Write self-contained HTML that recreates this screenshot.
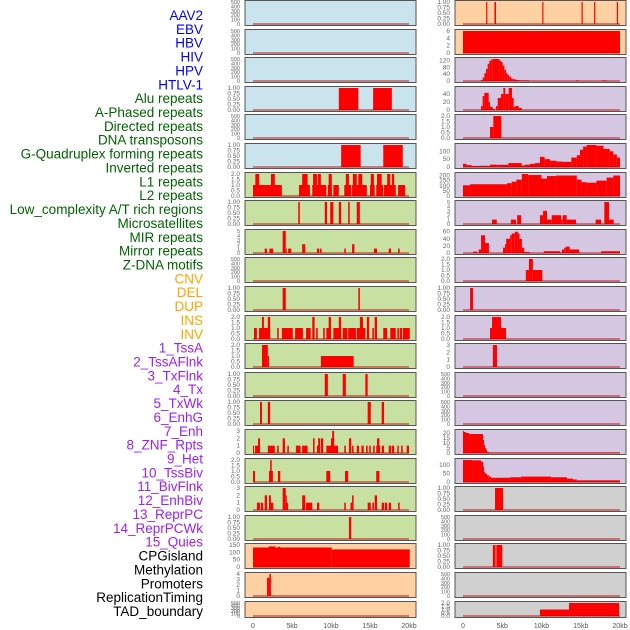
<!DOCTYPE html>
<html><head><meta charset="utf-8"><style>
body{margin:0;background:#fff;width:630px;height:630px;overflow:hidden}
svg{display:block;font-family:"Liberation Sans",sans-serif}
</style></head><body>
<svg id="chart" width="630" height="630"></svg>
<script>
const trackLabels=["AAV2","EBV","HBV","HIV","HPV","HTLV-1","Alu repeats","A-Phased repeats","Directed repeats","DNA transposons","G-Quadruplex forming repeats","Inverted repeats","L1 repeats","L2 repeats","Low_complexity A/T rich regions","Microsatellites","MIR repeats","Mirror repeats","Z-DNA motifs","CNV","DEL","DUP","INS","INV","1_TssA","2_TssAFlnk","3_TxFlnk","4_Tx","5_TxWk","6_EnhG","7_Enh","8_ZNF_Rpts","9_Het","10_TssBiv","11_BivFlnk","12_EnhBiv","13_ReprPC","14_ReprPCWk","15_Quies","CPGisland","Methylation","Promoters","ReplicationTiming","TAD_boundary"];
const xTicks=[0,5000,10000,15000,20000];
const xTickLabels=["0","5kb","10kb","15kb","20kb"];
const T500=["0","100","200","300","400","500"],T1=["0.00","0.25","0.50","0.75","1.00"],T2=["0.0","0.5","1.0","1.5","2.0"];
const leftBg=["b","b","b","b","b","b","g","g","g","g","g","g","g","g","g","g","g","g","g","p","p","p"];
const rightBg=["p","p","l","l","l","l","l","l","l","l","l","l","l","l","l","l","l","y","y","y","y","y"];
const leftTicks=[T500,T500,T500,T1,T500,T1,T2,T1,["0","1","2","3","4","5"],T500,T1,T2,T2,T1,T1,["0","1","2","3"],T2,["0","1","2","3"],T1,["0","50","100","150"],["0","1","2","3","4"],T500];
const leftMax=[500,500,500,1,500,1,2,1,5,500,1,2,2,1,1,3,2,3,1,150,4,500];
const rightTicks=[T1,["0","2","4","6"],["0","40","80","120"],["0","20","40"],T2,["0","50","100"],["0","50","100","150","200"],["0","1","2","3","4","5"],["0","20","40","60"],T2,T1,T2,["0","1","2","3"],T500,T500,["0","5","10","15","20"],["0","50","100"],T1,T500,T1,T500,T2];
const rightMax=[1,6,128,55,2,140,215,5,62,2,1,2,3,500,500,22,130,1,500,1,500,2];
// segments in kb: [start, end, value]
const leftSegments=[
[],[],[],
[[11,13.5,1],[15.4,17.8,1]],
[],
[[11.3,13.8,1],[16.7,19.2,1]],
[[-0.1,3.7,1],[0.3,0.8,2],[2.3,2.8,2],[5.9,7.3,1],[6.3,7.0,2],[7.6,9.4,1],[7.7,8.2,2],[8.3,8.7,2],[9.6,10.1,1],[9.7,10.1,2],[10.3,11,1],[11.7,12.6,1],[11.9,12.3,2],[12.7,14.6,1],[12.8,13.3,2],[13.5,14.0,2],[15,15.6,1],[15.1,15.5,2],[15.8,16.7,1],[15.9,16.5,2],[16.8,18.3,1],[17.2,17.6,2],[17.8,18.1,2],[18.6,19.5,1]],
[[5.8,6.0,1],[9.2,9.5,1],[9.9,10.3,1],[11,11.3,1],[12.2,12.4,1],[13.3,13.7,1]],
[[1.5,1.8,1],[2.1,2.6,1],[3.8,4.2,5],[4.2,4.3,1],[4.5,4.9,1],[6.3,6.7,2],[8.2,8.5,1],[8.6,8.8,1],[11.7,11.9,1],[12.7,13.0,2],[15.5,15.9,1],[17.4,17.7,1],[18.6,18.8,1]],
[],
[[3.8,4.2,1],[13.5,13.7,1]],
[[0.13,0.5,1],[0.77,2.05,1],[1.15,1.4,2],[1.9,2.2,2],[3.1,3.3,1],[3.7,5.1,1],[5.4,6.4,1],[6.8,7.4,1],[7.6,7.9,2],[8.1,8.3,1],[9.0,9.2,1],[9.4,10.0,1],[9.7,10.0,2],[10.3,11.3,1],[11.0,11.3,2],[11.5,12.1,1],[12.2,13.2,1],[13.3,14.4,1],[13.7,14.1,2],[14.6,14.9,2],[15.3,15.5,1],[15.6,15.9,2],[16.7,17.2,1],[17.6,18.3,1],[18.5,18.7,1],[18.8,19.1,1],[19.2,20.1,1]],
[[1.15,1.9,2],[1.9,2.05,1],[8.7,12.9,1]],
[[9.2,9.6,1],[11.5,11.9,1],[14.4,14.7,1]],
[[0.9,1.15,1],[1.9,2.2,1],[14.7,15.1,1],[16.5,16.8,1]],
[[-0.1,0.1,1],[0.26,0.9,1],[0.65,0.9,2],[1.9,2.8,1],[3.1,3.3,1],[3.8,4.1,2],[4.4,4.6,1],[5.5,6.1,1],[6.3,7.0,1],[7.7,7.9,2],[8.2,8.6,1],[8.35,8.6,2],[8.7,9.0,2],[9.4,10.0,1],[10.0,10.9,1],[10.0,10.4,2],[10.15,10.4,3],[11.7,11.9,1],[12.3,12.6,2],[12.7,12.9,1],[13.3,13.6,1],[13.9,14.2,1],[14.5,14.7,1],[14.9,15.1,1],[15.4,15.6,1],[15.8,16.3,1],[15.9,16.2,2],[16.5,16.8,1],[17.4,17.7,1],[17.8,18.1,1],[18.5,18.7,1],[19.0,19.2,1],[19.7,20.0,1]],
[[-0.1,0.26,1],[2.05,2.55,1],[2.2,2.4,2],[3.2,3.5,1],[9.4,9.9,1],[11.8,12.2,1],[15.8,16.2,1]],
[[0.5,0.9,1],[1.0,1.3,1],[1.5,1.8,2],[2.05,2.6,1],[2.05,2.3,2],[3.8,4.2,3],[4.2,4.3,2],[4.3,4.5,1],[6.3,6.7,2],[6.8,7.6,1],[8.2,8.5,1],[11.7,11.9,1],[12.5,12.7,1],[12.7,12.9,2],[14.7,15.1,1],[15.3,15.5,1],[15.6,15.9,2],[16.5,16.8,1],[16.9,17.2,1],[17.4,17.7,1],[18.6,18.8,1]],
[[12.3,12.6,1]],
[[0,10.1,133],[2.0,2.9,140],[3.2,3.5,137],[10.1,20.1,120]],
[[1.8,2.1,3.3],[2.1,2.3,4]],
[]
];
const rightSegments=[
[[2.95,3.1,1],[4.0,4.2,1],[10.1,10.25,1],[15.1,15.25,1],[16.7,16.85,1],[19.6,19.75,1]],
[[0,20,6]],
[[2.3,2.5,5],[2.5,2.72,20],[2.72,2.93,45],[2.93,3.14,70],[3.14,3.35,100],[3.35,3.57,118],[3.57,3.78,125],[3.78,4.63,128],[4.63,4.84,120],[4.84,5.05,110],[5.05,5.27,90],[5.27,5.48,65],[5.48,5.69,45],[5.69,5.9,35],[5.9,6.11,25],[6.11,6.33,15],[6.33,6.75,10],[6.75,7.18,6],[7.18,8.45,3],[14.4,14.7,3],[17.7,18.3,3]],
[[2.3,2.5,10],[2.5,2.72,35],[2.72,3.27,43],[3.27,3.44,20],[3.44,3.78,8],[3.78,4.08,3],[4.2,4.42,10],[4.42,4.84,30],[4.84,5.14,40],[5.14,5.39,55],[5.39,5.82,40],[5.82,6.24,55],[6.24,6.45,30],[6.45,6.67,8],[6.67,7.09,10],[7.09,7.5,5]],
[[3.44,3.86,1],[3.86,4.88,2]],
[[0,0.47,20],[0.47,1.1,12],[1.1,2.17,7],[2.17,3.44,8],[3.44,4.29,15],[4.29,5.77,14],[5.77,7.47,25],[7.47,7.9,10],[7.9,8.53,15],[8.53,9.17,20],[9.17,9.8,25],[9.8,10.4,65],[10.4,11.1,50],[11.1,11.9,40],[11.9,12.6,35],[12.6,13.8,33],[13.8,14.5,60],[14.5,14.9,75],[14.9,15.3,110],[15.3,15.75,130],[15.75,17.0,140],[17.0,17.9,135],[17.9,18.7,115],[18.7,19.15,100],[19.15,19.6,80],[19.6,20.0,60]],
[[0,0.9,105],[0.9,5.6,115],[5.6,6.2,125],[6.2,6.8,140],[6.8,7.5,160],[7.5,8.3,215],[8.3,10.0,205],[10.0,10.7,170],[10.7,11.9,195],[11.9,14.5,200],[14.5,15.1,160],[15.1,15.75,135],[15.75,17.0,130],[17.0,18.3,150],[18.3,19.15,180],[19.15,20,200]],
[[3.7,4.3,1],[6.1,6.75,1],[6.9,7.4,2],[9.8,10.2,2],[10.2,10.7,3],[10.7,11.3,1],[11.3,12.5,2],[12.5,12.7,1],[12.7,13.2,2],[13.2,14.4,1],[16.9,17.6,1],[18.0,18.6,5],[18.6,19.2,1]],
[[1.3,1.8,4],[2.0,2.3,10],[2.3,2.8,50],[2.8,3.3,28],[5.1,5.35,15],[5.35,5.5,25],[5.5,6.0,40],[6.0,6.2,50],[6.2,6.6,55],[6.6,7.0,60],[7.0,7.2,55],[7.2,7.5,40],[7.5,7.8,15],[7.8,8.5,3],[10.3,12.4,5],[12.6,12.9,10],[12.9,13.1,15],[13.1,13.6,18],[13.6,14.8,10],[17.6,20,5]],
[[8.0,8.4,1],[8.4,8.9,2],[8.9,10.1,1]],
[[0.9,1.27,1]],
[[3.44,3.7,1],[3.7,4.84,2],[4.84,5.48,1]],
[[3.8,4.33,3]],
[],[],
[[0,0.04,22],[0.04,0.38,21],[0.38,0.76,20],[0.76,2.55,19],[2.55,2.68,13],[2.68,2.8,8],[2.8,2.93,5],[2.93,3.06,3],[3.06,3.3,1],[3.3,19.9,0.3]],
[[0,1.15,130],[1.15,2.3,128],[2.3,2.55,120],[2.55,2.68,90],[2.68,2.8,60],[2.8,3.06,50],[3.06,3.3,40],[3.3,3.57,32],[3.57,6.0,25],[6.0,7.4,28],[7.4,11.2,32],[11.2,13.25,28],[13.25,14.0,20],[14.0,14.5,15],[14.5,20,10]],
[[4.08,5.1,1]],
[],
[[3.8,4.15,1],[4.25,5.0,1]],
[],
[[9.8,13.5,1],[13.5,19.9,2]]
];
const bgColors={b:"#c9e4ec",g:"#c8e1a2",p:"#fed0a2",l:"#d5c6e2",y:"#d0d0d0"};
const NS="http://www.w3.org/2000/svg";
const svg=document.getElementById('chart');
function mk(tag,attrs,parent){const e=document.createElementNS(NS,tag);for(const k in attrs)e.setAttribute(k,attrs[k]);(parent||svg).appendChild(e);return e;}
function labelColor(i){if(i<6)return"#0000ff";if(i<19)return"#006400";if(i<24)return"#ffa500";if(i<39)return"#a020f0";return"#000";}
trackLabels.forEach((t,i)=>{
  const e=mk('text',{x:203,y:20+i*13.86,'text-anchor':'end','font-size':13.5,fill:labelColor(i)});
  e.textContent=t;
  
  
});
const cols=[{x0:245,x1:416,zx:253,fx:409,bg:leftBg,segs:leftSegments,ticks:leftTicks,max:leftMax,tx:240,name:'left'},
            {x0:455,x1:626,zx:463,fx:620,bg:rightBg,segs:rightSegments,ticks:rightTicks,max:rightMax,tx:450,name:'right'}];
cols.forEach(c=>{
  const xs=kb=>c.zx+(kb*1000)/20000*(c.fx-c.zx);
  for(let r=0;r<22;r++){
    const top=Math.round(r*28.6)+0.5, h=(r===21?16:25), bot=top+h;
    const g=mk('g',{});
    
    
    const bg=mk('rect',{x:c.x0,y:top,width:c.x1-c.x0,height:h,fill:bgColors[c.bg[r]]},g);
    
    
    const ymax=c.max[r];
    const ys=v=>(bot-1.5)-(v/ymax)*(h-3);
    c.segs[r].forEach(s=>{
      const x1=xs(Math.max(s[0],0)), x2=xs(s[1]);
      const b=mk('rect',{x:x1,y:ys(s[2]),width:Math.max(x2-x1,1),height:(bot-1.5)-ys(s[2]),fill:"#ff0000"},g);
      
      
    });
    const bl=mk('line',{x1:xs(0),x2:xs(20),y1:bot-1.5,y2:bot-1.5,stroke:"rgba(190,0,0,0.45)",'stroke-width':2},g);
    
    
    const br=mk('rect',{x:c.x0,y:top,width:c.x1-c.x0,height:h,fill:"none",stroke:"#555",'stroke-width':1},g);
    
    
    c.ticks[r].forEach(t=>{
      const v=parseFloat(t);
      const te=mk('text',{x:c.tx,y:ys(v)+2,'text-anchor':'end','font-size':(c.ticks[r].length>5?5.5:6.5),fill:"#666"},g);
      te.textContent=t;
      
      
    });
  }
  xTicks.forEach((t,i)=>{
    const te=mk('text',{x:c.zx+t/20000*(c.fx-c.zx),y:628,'text-anchor':'middle','font-size':7,fill:"#555"});
    te.textContent=xTickLabels[i];
    
    
  });
});
</script>
</body></html>
